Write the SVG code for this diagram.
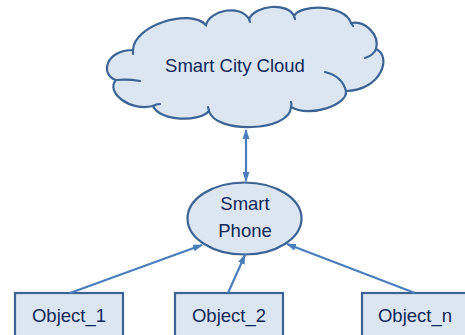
<svg xmlns="http://www.w3.org/2000/svg" width="465" height="335" viewBox="0 0 465 335">
<style>
.shape{fill:#dce6f2;stroke:#3b6394;stroke-width:2.2}
.hook{fill:none;stroke:#3b6394;stroke-width:2.2;stroke-linecap:round}
.lbl{font-family:"Liberation Sans",Arial,sans-serif;font-size:18.5px;fill:#12285a;text-anchor:middle}
.conn{stroke:#4a7ebb;stroke-width:2.2;fill:none}
</style>
<defs>
<marker id="ah" markerUnits="userSpaceOnUse" markerWidth="10" markerHeight="10" viewBox="0 0 10 10" refX="9" refY="5" orient="auto-start-reverse">
<path d="M0,1.5 L10,5 L0,8.5 Z" fill="#4a7ebb"/>
</marker>
</defs>
<rect width="465" height="335" fill="#ffffff"/>
<g id="cloud">
<path class="shape" d="M133,50 C134,25 190,8 206,25 C210,10 240,4 249,19 C255,5 288,2 294,16 C300,4 345,4 351,23 C365,20 380,35 376,49 C392,56 382,90 346,91 C348,105 310,118 291,107 C290,132 215,134 209,111 C200,122 160,122 153,106 C130,112 105,92 116,80 C100,75 105,50 133,50 Z"/>
<path class="hook" d="M116,80 Q128,79 140,81 M133,50 L133,54 M206,25 Q203,22 200,21 M249,19 L250,22 M294,16 L295,19 M351,23 L353,26 M376,49 Q374,55 365,58 M346,91 Q342,76 325,72 M291,107 Q292,104 291,102 M209,111 L208,107 M153,106 Q156,104 160,104"/>
<text class="lbl" x="235" y="72">Smart City Cloud</text>
</g>
<g id="phone">
<ellipse class="shape" cx="244.5" cy="218.5" rx="57" ry="36"/>
<text class="lbl" x="245" y="210">Smart</text>
<text class="lbl" x="245" y="237">Phone</text>
</g>
<g id="object1">
<rect class="shape" x="15" y="293" width="108" height="50"/>
<text class="lbl" x="69" y="322">Object_1</text>
</g>
<g id="object2">
<rect class="shape" x="175" y="293" width="108" height="50"/>
<text class="lbl" x="229" y="322">Object_2</text>
</g>
<g id="objectn">
<rect class="shape" x="362" y="293" width="108" height="50"/>
<text class="lbl" x="415" y="322">Object_n</text>
</g>
<g id="connectors">
<line class="conn" x1="246" y1="130" x2="246" y2="181" marker-start="url(#ah)" marker-end="url(#ah)"/>
<line class="conn" x1="70" y1="293" x2="202" y2="245" marker-end="url(#ah)"/>
<line class="conn" x1="228" y1="293" x2="245" y2="255" marker-end="url(#ah)"/>
<line class="conn" x1="415" y1="293" x2="287" y2="244" marker-end="url(#ah)"/>
</g>
</svg>
